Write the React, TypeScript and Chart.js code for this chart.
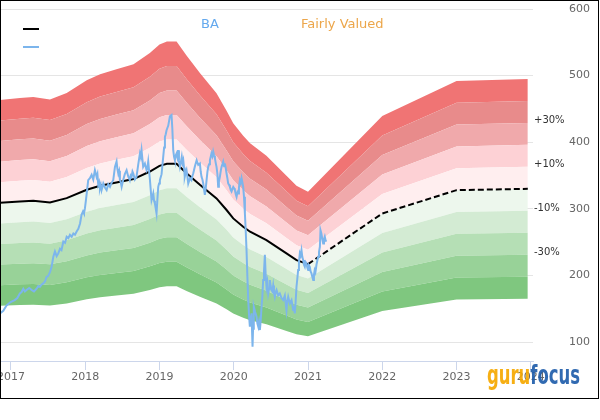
import React, { useEffect, useRef } from "react";
import { Chart, registerables } from "chart.js";
Chart.register(...registerables);

// Fair value (median) line: decimal years and values
const fairYears = [2016.852, 2017.12, 2017.3, 2017.525, 2017.75, 2018.02, 2018.2, 2018.42, 2018.65, 2018.87, 2019.0, 2019.1, 2019.23, 2019.364, 2019.544, 2019.768, 2019.903, 2019.993, 2020.127, 2020.22, 2020.44, 2020.71, 2020.845, 2021.0, 2022.0, 2023.0, 2023.96];
const fairValues = [309, 311, 312, 309.5, 316, 328.6, 334.6, 339.6, 344.6, 356, 364.5, 367.5, 367.5, 353.5, 336, 315.7, 298.2, 285.6, 273.1, 265.6, 253, 233, 223, 217, 293, 328, 330];
const projectionStart = 2021.0;

// Band boundaries as multiples of fair value, and the fill between consecutive ones
const bandMultipliers = [0.5, 0.6, 0.7, 0.8, 0.9, 1.0, 1.1, 1.2, 1.3, 1.4, 1.5];
const bandColors = ["#7fc77f", "#98d298", "#b5dfb5", "#d3ebd3", "#edf7ed", "#ffeeef", "#fdd1d5", "#f0a9ab", "#e88b8b", "#f07474"];

// BA price
const priceYears = [
  2016.852, 2016.896, 2016.94, 2016.995, 2017.05, 2017.085, 2017.12, 2017.143, 2017.166, 2017.188,
  2017.21, 2017.245, 2017.28, 2017.31, 2017.345, 2017.368, 2017.39, 2017.41, 2017.435, 2017.458,
  2017.48, 2017.5, 2017.525, 2017.547, 2017.57, 2017.592, 2017.615, 2017.637, 2017.66, 2017.68,
  2017.705, 2017.728, 2017.75, 2017.772, 2017.794, 2017.817, 2017.84, 2017.862, 2017.884, 2017.907,
  2017.93, 2017.95, 2017.97, 2017.983, 2017.996, 2018.008, 2018.02, 2018.04, 2018.063, 2018.086,
  2018.108, 2018.13, 2018.153, 2018.164, 2018.175, 2018.187, 2018.198, 2018.209, 2018.22, 2018.232,
  2018.243, 2018.265, 2018.288, 2018.31, 2018.333, 2018.355, 2018.377, 2018.4, 2018.422, 2018.433,
  2018.445, 2018.456, 2018.467, 2018.478, 2018.49, 2018.5, 2018.51, 2018.533, 2018.557, 2018.578,
  2018.6, 2018.612, 2018.624, 2018.636, 2018.647, 2018.668, 2018.69, 2018.713, 2018.736, 2018.747,
  2018.758, 2018.78, 2018.803, 2018.826, 2018.837, 2018.848, 2018.87, 2018.893, 2018.905, 2018.916,
  2018.927, 2018.938, 2018.95, 2018.96, 2018.972, 2018.983, 2018.994, 2019.005, 2019.028, 2019.05,
  2019.062, 2019.073, 2019.084, 2019.095, 2019.118, 2019.14, 2019.162, 2019.173, 2019.185, 2019.196,
  2019.207, 2019.218, 2019.23, 2019.24, 2019.25, 2019.262, 2019.275, 2019.288, 2019.3, 2019.31,
  2019.32, 2019.33, 2019.34, 2019.352, 2019.364, 2019.375, 2019.387, 2019.41, 2019.43, 2019.442,
  2019.454, 2019.477, 2019.5, 2019.522, 2019.544, 2019.555, 2019.566, 2019.578, 2019.589, 2019.6,
  2019.611, 2019.622, 2019.634, 2019.645, 2019.656, 2019.668, 2019.679, 2019.69, 2019.7, 2019.712,
  2019.723, 2019.735, 2019.746, 2019.757, 2019.768, 2019.78, 2019.79, 2019.8, 2019.813, 2019.825,
  2019.836, 2019.847, 2019.858, 2019.87, 2019.88, 2019.892, 2019.903, 2019.914, 2019.925, 2019.937,
  2019.948, 2019.96, 2019.97, 2019.982, 2019.993, 2020.004, 2020.015, 2020.027, 2020.038, 2020.05,
  2020.06, 2020.07, 2020.082, 2020.094, 2020.105, 2020.116, 2020.127, 2020.138, 2020.15, 2020.16,
  2020.172, 2020.183, 2020.195, 2020.206, 2020.217, 2020.228, 2020.24, 2020.246, 2020.253, 2020.26,
  2020.27, 2020.288, 2020.307, 2020.318, 2020.33, 2020.34, 2020.352, 2020.363, 2020.374, 2020.385,
  2020.396, 2020.407, 2020.419, 2020.43, 2020.441, 2020.452, 2020.464, 2020.475, 2020.486, 2020.497,
  2020.508, 2020.52, 2020.531, 2020.542, 2020.553, 2020.565, 2020.576, 2020.598, 2020.62, 2020.643,
  2020.666, 2020.688, 2020.71, 2020.72, 2020.733, 2020.755, 2020.778, 2020.79, 2020.8, 2020.81,
  2020.822, 2020.833, 2020.845, 2020.856, 2020.867, 2020.878, 2020.89, 2020.9, 2020.912, 2020.923,
  2020.935, 2020.946, 2020.957, 2020.968, 2020.98, 2020.99, 2021.002, 2021.013, 2021.024, 2021.035,
  2021.047, 2021.058, 2021.07, 2021.08, 2021.09, 2021.1, 2021.114, 2021.125, 2021.137, 2021.148,
  2021.16, 2021.168, 2021.18, 2021.192, 2021.204, 2021.215, 2021.226, 2021.238, 2021.25,
];
const priceValues = [
  143, 147, 155, 160, 163, 166, 173, 175, 180, 176,
  178, 181, 178, 176, 180, 184, 183, 186, 188, 191,
  198, 199, 205, 213, 228, 236, 229, 233, 240, 238,
  251, 249, 258, 256, 261, 258, 263, 261, 266, 270,
  278, 291, 296, 293, 301, 312, 323, 343, 346, 351,
  344, 358, 348, 352, 336, 340, 331, 336, 328, 333,
  338, 332, 328, 337, 333, 339, 343, 363, 371, 360,
  353, 357, 343, 340, 333, 338, 343, 352, 358, 349,
  343, 350, 348, 356, 353, 344, 348, 366, 383, 378,
  388, 363, 368, 358, 362, 371, 345, 313, 318, 323,
  312, 308, 300, 293, 315, 333, 338, 343, 352, 378,
  392, 408, 412, 418, 425, 439, 441, 420, 388, 378,
  373, 380, 383, 378, 388, 372, 363, 370, 378, 369,
  373, 362, 348, 354, 358, 349, 338, 346, 343, 349,
  353, 364, 373, 366, 368, 356, 348, 344, 338, 329,
  321, 330, 343, 355, 363, 367, 373, 378, 383, 379,
  386, 380, 376, 369, 363, 352, 333, 341, 348, 357,
  363, 367, 371, 364, 368, 361, 353, 346, 338, 336,
  333, 328, 326, 330, 333, 331, 328, 322, 318, 325,
  323, 332, 343, 339, 346, 340, 333, 318, 293, 270,
  238, 200, 163, 140, 123, 132, 143, 118, 93, 120,
  153, 145, 138, 128, 123, 130, 118, 132, 153, 168,
  193, 205, 231, 200, 183, 190, 173, 180, 193, 184,
  178, 176, 185, 174, 168, 175, 178, 170, 173, 166,
  163, 170, 148, 160, 168, 158, 163, 155, 148, 154,
  143, 160, 183, 195, 208, 220, 233, 230, 238, 228,
  223, 216, 213, 220, 218, 212, 208, 215, 213, 206,
  203, 198, 193, 201, 208, 205, 216, 222, 228, 235,
  243, 268, 263, 255, 248, 254, 258, 252, 251,
];

const percentLabels = ["+30%", "+10%", "-10%", "-30%"];
const percentMultipliers = [1.3, 1.1, 0.9, 0.7];

const xMin = 2016.852;
const xMax = 2024.03;
const yMin = 71.5;
const yMax = 600;

const FONT = "'DejaVu Sans', sans-serif";

export default function App() {
  const ref = useRef<HTMLCanvasElement | null>(null);

  useEffect(() => {
    if (!ref.current) return;

    const bandDatasets = bandMultipliers.map((m, i) => ({
      type: "line" as const,
      data: fairYears.map((x, j) => ({ x, y: fairValues[j] * m })),
      borderColor: "rgba(0,0,0,0)",
      borderWidth: 0,
      pointRadius: 0,
      fill: i === 0 ? false : "-1",
      backgroundColor: i === 0 ? "rgba(0,0,0,0)" : bandColors[i - 1],
      order: 3,
    }));

    const overlay = {
      id: "overlay",
      afterDraw(chart: any) {
        const ctx = chart.ctx as CanvasRenderingContext2D;
        const ys = chart.scales.y;
        const area = chart.chartArea;
        ctx.save();
        // legend symbols
        ctx.lineWidth = 2;
        ctx.strokeStyle = "#000";
        ctx.beginPath();
        ctx.moveTo(23, 29);
        ctx.lineTo(39, 29);
        ctx.stroke();
        ctx.strokeStyle = "#7cb5ec";
        ctx.beginPath();
        ctx.moveTo(23, 47);
        ctx.lineTo(39, 47);
        ctx.stroke();
        // titles
        ctx.font = `13px ${FONT}`;
        ctx.textBaseline = "middle";
        ctx.textAlign = "left";
        ctx.fillStyle = "#64a9ee";
        ctx.fillText("BA", 201, 25);
        ctx.fillStyle = "#eca64a";
        ctx.fillText("Fairly Valued", 301, 25);
        // percent labels
        const last = fairValues[fairValues.length - 1];
        ctx.font = `10px ${FONT}`;
        ctx.fillStyle = "#333";
        percentLabels.forEach((t, i) => {
          const y = ys.getPixelForValue(last * percentMultipliers[i]);
          ctx.fillText(t, area.right + 1, y - 2);
        });
        // logo
        ctx.font = `bold 26px ${FONT}`;
        ctx.textBaseline = "alphabetic";
        const w1 = ctx.measureText("guru").width;
        const w2 = ctx.measureText("focus").width;
        const sx = 93 / (w1 + w2);
        ctx.translate(487, 384);
        ctx.scale(sx, 1);
        ctx.globalAlpha = 0.92;
        ctx.fillStyle = "#f5a800";
        ctx.fillText("guru", 0, 0);
        ctx.fillStyle = "#1f5daa";
        ctx.fillText("focus", w1, 0);
        ctx.restore();
        // frame
        ctx.save();
        ctx.strokeStyle = "#000";
        ctx.lineWidth = 1;
        ctx.strokeRect(0.5, 0.5, 598, 398);
        ctx.restore();
      },
    };

    const chart = new Chart(ref.current, {
      type: "line",
      data: {
        datasets: [
          ...bandDatasets,
          {
            type: "line",
            data: fairYears.map((x, j) => ({ x, y: fairValues[j] })),
            borderColor: "#000",
            borderWidth: 2,
            pointRadius: 0,
            fill: false,
            order: 2,
            segment: {
              borderDash: (c: any) => (c.p0.parsed.x >= projectionStart - 0.001 ? [6, 3] : []),
            },
          },
          {
            type: "line",
            data: priceYears.map((x, j) => ({ x, y: priceValues[j] })),
            borderColor: "#7cb5ec",
            borderWidth: 2,
            pointRadius: 0,
            fill: false,
            order: 1,
          },
        ] as any,
      },
      options: {
        responsive: false,
        animation: false,
        devicePixelRatio: 1,
        layout: { padding: { top: 9, right: 10, left: 0, bottom: 0 } },
        plugins: { legend: { display: false }, tooltip: { enabled: false } },
        elements: { line: { tension: 0 } },
        scales: {
          x: {
            type: "linear",
            position: "bottom",
            min: xMin,
            max: xMax,
            afterFit: (s: any) => {
              s.height = 59;
              s.paddingLeft = 0;
              s.paddingRight = 0;
            },
            ticks: {
              stepSize: 1,
              includeBounds: false,
              autoSkip: false,
              maxRotation: 0,
              padding: 1,
              color: "#666",
              font: { family: FONT, size: 11 },
              callback: (v: any) => String(v),
            },
            grid: { drawOnChartArea: false, drawTicks: true, tickLength: 9, color: "#ccd6eb" },
            border: { display: true, color: "#ccd6eb" },
          },
          y: {
            type: "linear",
            position: "right",
            min: yMin,
            max: yMax,
            z: 1,
            afterFit: (s: any) => {
              s.width = 57;
              s.paddingTop = 0;
              s.paddingBottom = 0;
            },
            ticks: {
              stepSize: 100,
              includeBounds: false,
              crossAlign: "far",
              padding: 36,
              color: "#666",
              font: { family: FONT, size: 11 },
            },
            grid: { drawTicks: false, color: "rgba(0,0,0,0.1)" },
            border: { display: false },
          },
        },
      } as any,
      plugins: [overlay],
    });

    return () => chart.destroy();
  }, []);

  return (
    <div style={{ position: "absolute", left: 0, top: 0, width: 600, height: 420, background: "#fff" }}>
      <canvas ref={ref} width={600} height={420} style={{ width: 600, height: 420, display: "block" }} />
    </div>
  );
}
